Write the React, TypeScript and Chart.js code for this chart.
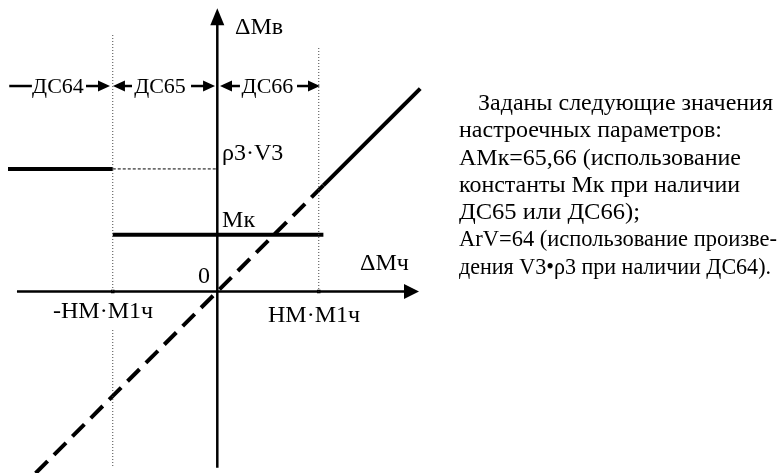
import React, { useEffect, useRef } from "react";
import { Chart, registerables } from "chart.js";

Chart.register(...registerables);

// ---- data (in units of HM·M1ч) ----
const thresholds = [-1.015, 0.985];
const rhoV3Level = 1.19;
const mkLevel = 0.55;
const xAxisRange = [-1.945, 1.958];
const yAxisRange = [-1.71, 2.75];
const rhoV3Start = -2.032;
const mkEnd = 1.03;
const diagSolid = [1.03, 1.97];
const diagDashed = [-1.79, 1.03];
const dottedLeftTop = [2.49, 0];
const dottedLeftBottom = [-0.374, -1.71];
const dottedRightTop = [2.364, 0];
const zoneLabels = ["ДС64", "ДС65", "ДС66"];
const zoneCenters = [-1.547, -0.556, 0.487];
const zoneLead = [-2.02, -1.8];
const zoneArrows = [
  [-1.275, -1.042],
  [-0.828, -1.013],
  [-0.255, -0.022],
  [0.22, 0.026],
  [0.774, 0.997],
];
const zoneRowY = 1.995;
const zoneLabelY = 1.927;
const rightText = [
  "Заданы следующие значения",
  "настроечных параметров:",
  "АМк=65,66 (использование",
  "константы Мк при наличии",
  "ДС65 или ДС66);",
  "ArV=64 (использование произве-",
  "дения V3•ρ3 при наличии ДС64).",
];
// rendered widths of the paragraph lines (px), as they appear in the reference
const rightTextWidths = [295, 263, 282, 281, 181, 318, 312];
const axisLabels = [
  { text: "ΔMв", x: 0.172, y: 2.5 },
  { text: "ρ3·V3", x: 0.046, y: 1.277 },
  { text: "Mк", x: 0.046, y: 0.626 },
  { text: "0", x: -0.187, y: 0.083 },
  { text: "ΔMч", x: 1.385, y: 0.209 },
  { text: "-HM·M1ч", x: -1.595, y: -0.257 },
  { text: "HM·M1ч", x: 0.492, y: -0.296 },
];

const FAMILY = "'Liberation Serif', 'Times New Roman', serif";

function seg(x1: number, y1: number, x2: number, y2: number) {
  return [
    { x: x1, y: y1 },
    { x: x2, y: y2 },
  ];
}

let measureCtx: CanvasRenderingContext2D | null = null;
function measure(t: string, font: string) {
  if (!measureCtx) measureCtx = document.createElement("canvas").getContext("2d");
  if (!measureCtx) return 0;
  measureCtx.font = font;
  return measureCtx.measureText(t).width;
}

const annotPlugin = {
  id: "annot",
  afterDatasetsDraw(chart: any) {
    const ctx = chart.ctx as CanvasRenderingContext2D;
    const xs = chart.scales.x;
    const ys = chart.scales.y;
    const px = (v: number) => xs.getPixelForValue(v);
    const py = (v: number) => ys.getPixelForValue(v);
    ctx.save();
    ctx.fillStyle = "#000";
    ctx.strokeStyle = "#000";
    // axis arrowheads
    const ox = px(0);
    const oy = py(0);
    const xt = px(xAxisRange[1]);
    ctx.beginPath();
    ctx.moveTo(xt, oy);
    ctx.lineTo(xt - 15, oy - 7.5);
    ctx.lineTo(xt - 15, oy + 7.5);
    ctx.closePath();
    ctx.fill();
    const yt = py(yAxisRange[1]);
    ctx.beginPath();
    ctx.moveTo(ox, yt);
    ctx.lineTo(ox - 7, yt + 17);
    ctx.lineTo(ox + 7, yt + 17);
    ctx.closePath();
    ctx.fill();

    // zone arrows row
    const ry = py(zoneRowY);
    ctx.lineWidth = 2.5;
    const arrow = (from: number, to: number) => {
      const a = px(from);
      const b = px(to);
      const dir = b > a ? 1 : -1;
      ctx.beginPath();
      ctx.moveTo(a, ry);
      ctx.lineTo(b - dir * 9, ry);
      ctx.stroke();
      ctx.beginPath();
      ctx.moveTo(b, ry);
      ctx.lineTo(b - dir * 12, ry - 5.5);
      ctx.lineTo(b - dir * 12, ry + 5.5);
      ctx.closePath();
      ctx.fill();
    };
    ctx.beginPath();
    ctx.moveTo(px(zoneLead[0]), ry);
    ctx.lineTo(px(zoneLead[1]), ry);
    ctx.stroke();
    zoneArrows.forEach((a) => arrow(a[0], a[1]));

    ctx.font = "22px " + FAMILY;
    ctx.textBaseline = "alphabetic";
    ctx.textAlign = "center";
    zoneLabels.forEach((t, i) => {
      ctx.fillText(t, px(zoneCenters[i]), py(zoneLabelY));
    });
    ctx.font = "24px " + FAMILY;
    ctx.textAlign = "left";
    axisLabels.forEach((l) => ctx.fillText(l.text, px(l.x), py(l.y)));
    ctx.restore();
  },
};

export default function App() {
  const ref = useRef<HTMLCanvasElement | null>(null);
  useEffect(() => {
    if (!ref.current) return;
    const thick = { borderColor: "#000", borderWidth: 4, pointRadius: 0, showLine: true, fill: false };
    const dotted = { borderColor: "#444", borderWidth: 1, borderDash: [1, 2], pointRadius: 0, showLine: true, fill: false };
    const axis = { borderColor: "#000", borderWidth: 2.5, pointRadius: 0, showLine: true, fill: false };
    const chart = new Chart(ref.current, {
      type: "scatter",
      data: {
        datasets: [
          { ...dotted, data: seg(thresholds[0], dottedLeftTop[0], thresholds[0], dottedLeftTop[1]) },
          { ...dotted, data: seg(thresholds[0], dottedLeftBottom[0], thresholds[0], dottedLeftBottom[1]) },
          { ...dotted, data: seg(thresholds[1], dottedRightTop[0], thresholds[1], dottedRightTop[1]) },
          { ...axis, data: seg(xAxisRange[0], 0, xAxisRange[1] - 0.1, 0) },
          { ...axis, data: seg(0, yAxisRange[0], 0, yAxisRange[1] - 0.1) },
          { ...thick, data: seg(rhoV3Start, rhoV3Level, thresholds[0], rhoV3Level) },
          { borderColor: "#000", borderWidth: 1, borderDash: [3, 2], pointRadius: 0, showLine: true, data: seg(thresholds[0], rhoV3Level, 0, rhoV3Level) },
          { ...thick, data: seg(thresholds[0], mkLevel, mkEnd, mkLevel) },
          { ...thick, borderCapStyle: "butt", data: seg(diagSolid[0], diagSolid[0], diagSolid[1], diagSolid[1]) },
          { ...thick, borderDash: [17, 9], data: seg(diagDashed[1], diagDashed[1], diagDashed[0], diagDashed[0]) },
          { showLine: false, pointStyle: "rect", pointRadius: 2.5, backgroundColor: "#000", borderColor: "#000", borderWidth: 0, data: thresholds.map((t) => ({ x: t, y: 0 })) },
        ],
      },
      options: {
        animation: false,
        responsive: false,
        maintainAspectRatio: false,
        layout: { padding: 0, autoPadding: false },
        plugins: { legend: { display: false }, tooltip: { enabled: false }, title: { display: false } },
        scales: {
          x: { type: "linear", display: false, min: -217.3 / 103, max: 560.7 / 103 },
          y: { type: "linear", display: false, min: -181.5 / 103, max: 291.5 / 103 },
        },
      },
      plugins: [annotPlugin],
    } as any);
    return () => chart.destroy();
  }, []);
  const textFont = "24px " + FAMILY;
  return (
    <div style={{ position: "absolute", left: 0, top: 0, width: 778, height: 473, background: "#fff" }}>
      <canvas ref={ref} width={778} height={473} style={{ position: "absolute", left: 0, top: 0 }} />
      <div
        style={{
          position: "absolute",
          left: 459,
          top: 89,
          fontFamily: FAMILY,
          fontSize: 24,
          lineHeight: "27.3px",
          whiteSpace: "nowrap",
          color: "#000",
        }}
      >
        {rightText.map((t, i) => {
          const w = measure(t, textFont);
          const k = w > 0 ? rightTextWidths[i] / w : 1;
          return (
            <div key={i} style={{ paddingLeft: i === 0 ? 19 : 0 }}>
              <span style={{ display: "inline-block", transform: `scaleX(${k})`, transformOrigin: "left center" }}>{t}</span>
            </div>
          );
        })}
      </div>
    </div>
  );
}
